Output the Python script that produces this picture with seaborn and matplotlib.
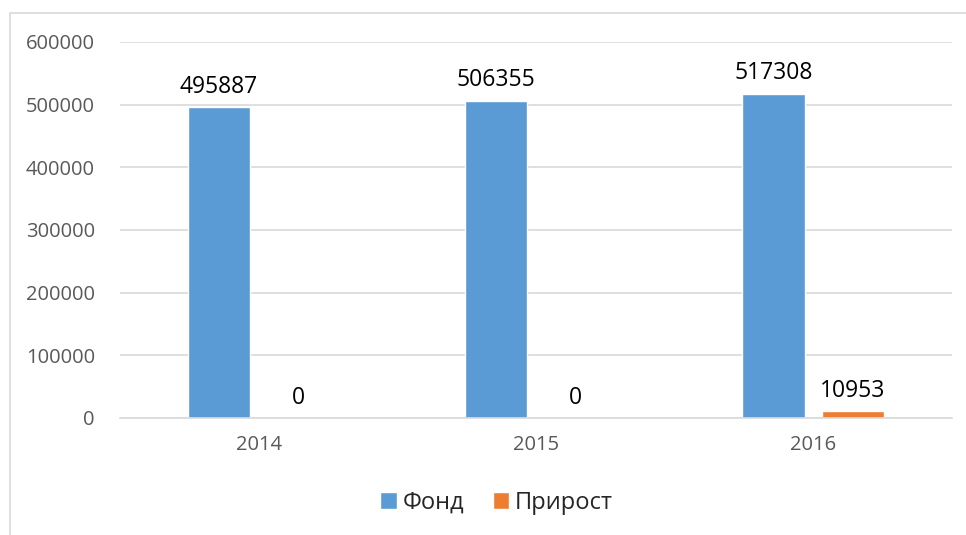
import matplotlib
matplotlib.use("Agg")
import matplotlib.pyplot as plt
import pandas as pd
import seaborn as sns
from matplotlib.patches import Rectangle

years = ["2014", "2015", "2016"]
fond = [495887, 506355, 517308]
prirost = [0, 0, 10953]
series_names = ["Фонд", "Прирост"]
colors = ["#5B9BD5", "#ED7D31"]

df = pd.DataFrame({
    "year": years * 2,
    "value": fond + prirost,
    "series": [series_names[0]] * len(years) + [series_names[1]] * len(years),
})

sns.set_theme(style="white")
plt.rcParams["font.family"] = ["Open Sans", "DejaVu Sans"]

fig = plt.figure(figsize=(9.66, 5.35), dpi=100)
ax = fig.add_axes([0.1242, 0.2187, 0.861, 0.7028])

sns.barplot(data=df, x="year", y="value", hue="series", palette=colors,
            saturation=1, width=0.572, gap=0.216, ax=ax, legend=True)

ax.set_ylim(0, 600000)
ax.set_yticks(range(0, 600001, 100000))
ax.yaxis.grid(True, color="#D9D9D9", linewidth=1.2)
ax.set_axisbelow(True)
for s in ["top", "right", "left"]:
    ax.spines[s].set_visible(False)
ax.spines["bottom"].set_color("#D9D9D9")
ax.spines["bottom"].set_linewidth(1.2)
ax.set_xlabel("")
ax.set_ylabel("")
ax.tick_params(axis="both", length=0, colors="#595959", labelsize=14.5)
ax.tick_params(axis="y", pad=18)
ax.tick_params(axis="x", pad=12)

for cont in ax.containers:
    ax.bar_label(cont, labels=[str(int(v)) for v in cont.datavalues],
                 padding=6, fontsize=16.5, color="#000000")

handles, labels = ax.get_legend_handles_labels()
ax.legend(handles, labels, loc="center", bbox_to_anchor=(0.514, 0.06),
          bbox_transform=fig.transFigure, ncol=2, frameon=False,
          handlelength=0.7, handleheight=0.7, handletextpad=0.25,
          columnspacing=1.2, fontsize=17)

fig.add_artist(Rectangle((10 / 966, -0.1), 1.2, 1.1 - 13 / 535,
                         transform=fig.transFigure, fill=False,
                         edgecolor="#D9D9D9", linewidth=1.2))

fig.savefig("out.png", dpi=100)
